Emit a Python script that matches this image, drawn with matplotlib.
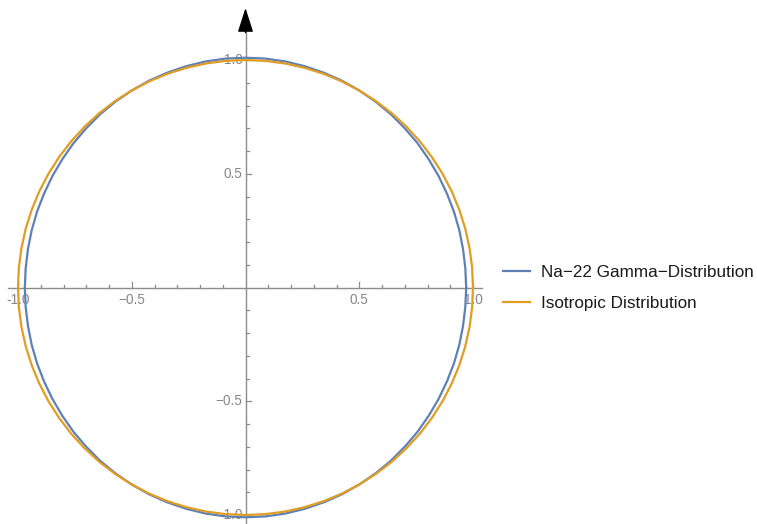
import numpy as np
import matplotlib
matplotlib.use("Agg")
import matplotlib.pyplot as plt

# Angular distributions sampled every 5 degrees (angle in degrees, radius)
angles_deg = list(range(0, 365, 5))
na22_r = [
    0.970, 0.970, 0.971, 0.973, 0.975, 0.977, 0.980, 0.983, 0.987, 0.990,
    0.994, 0.997, 1.000, 1.003, 1.005, 1.007, 1.009, 1.010, 1.010, 1.010,
    1.009, 1.007, 1.005, 1.003, 1.000, 0.997, 0.994, 0.990, 0.987, 0.983,
    0.980, 0.977, 0.975, 0.973, 0.971, 0.970, 0.970, 0.970, 0.971, 0.973,
    0.975, 0.977, 0.980, 0.983, 0.987, 0.990, 0.994, 0.997, 1.000, 1.003,
    1.005, 1.007, 1.009, 1.010, 1.010, 1.010, 1.009, 1.007, 1.005, 1.003,
    1.000, 0.997, 0.994, 0.990, 0.987, 0.983, 0.980, 0.977, 0.975, 0.973,
    0.971, 0.970, 0.970,
]
iso_r = [1.0] * len(angles_deg)

series_names = ["Na\u221222 Gamma\u2212Distribution", "Isotropic Distribution"]
major_ticks = [-1.0, -0.5, 0.5, 1.0]
tick_labels = ["-1.0", "\u22120.5", "0.5", "1.0"]

blue = "#5E81B5"
orange = "#E19C24"
axis_grey = "#8c8c8c"
label_grey = "#868686"

W, H, DPI = 757, 524, 100
fig = plt.figure(figsize=(W / DPI, H / DPI), dpi=DPI)

# Cartesian frame: 227.5 px per unit, origin at pixel (245.5, 287.5)
scale = 227.5
ox, oy = 245.5, 287.5
ax = fig.add_axes([0, 0, 1, 1])
ax.set_xlim(-ox / scale, (W - ox) / scale)
ax.set_ylim(-(H - oy) / scale, oy / scale)
ax.axis("off")

# Polar overlay sharing the same origin and scale
rmax = 1.1
rp = rmax * scale
pax = fig.add_axes([(ox - rp) / W, (H - oy - rp) / H, 2 * rp / W, 2 * rp / H],
                   projection="polar")
pax.set_ylim(0, rmax)
pax.axis("off")
pax.patch.set_alpha(0)

theta = np.deg2rad(angles_deg)
l1, = pax.plot(theta, na22_r, color=blue, lw=1.6, clip_on=False)
l2, = pax.plot(theta, iso_r, color=orange, lw=1.6, clip_on=False)

# Axes through the origin
x_lo, x_hi = -1.044, 1.04
ax.plot([x_lo, x_hi], [0, 0], color=axis_grey, lw=1.0, zorder=1)
ax.plot([0, 0], [-1.2, 1.15], color=axis_grey, lw=1.0, zorder=1)
ax.annotate("", xy=(0, 1.2286), xytext=(0, 1.12),
            arrowprops=dict(arrowstyle="-|>,head_length=1.5,head_width=0.48",
                            color="black", lw=1.0, shrinkA=0, shrinkB=0))

# Ticks
px = 1 / scale
minor = [v / 10 for v in range(-10, 11) if v not in (0, -10, -5, 5, 10)]
for v in minor:
    ax.plot([v, v], [0, 3 * px], color=axis_grey, lw=0.9)
    ax.plot([0, 3 * px], [v, v], color=axis_grey, lw=0.9)
for v, lab in zip(major_ticks, tick_labels):
    ax.plot([v, v], [0, 5.5 * px], color=axis_grey, lw=0.9)
    ax.plot([0, 5.5 * px], [v, v], color=axis_grey, lw=0.9)
    ax.text(v, -6 * px, lab, ha="center", va="top", fontsize=9.8,
            color=label_grey, family="Liberation Sans")
    ax.text(-3 * px, v, lab, ha="right", va="center", fontsize=9.8,
            color=label_grey, family="Liberation Sans")

leg = ax.legend([l1, l2], series_names, loc="center left",
                bbox_to_anchor=(503 / W, (H - 288) / H),
                bbox_transform=fig.transFigure, borderaxespad=0, borderpad=0,
                frameon=False, handlelength=1.6, handletextpad=0.6,
                labelspacing=0.9, prop=dict(family="Liberation Sans", size=12.3))
for t in leg.get_texts():
    t.set_color("#1a1a1a")

fig.savefig("out.png", dpi=DPI)
